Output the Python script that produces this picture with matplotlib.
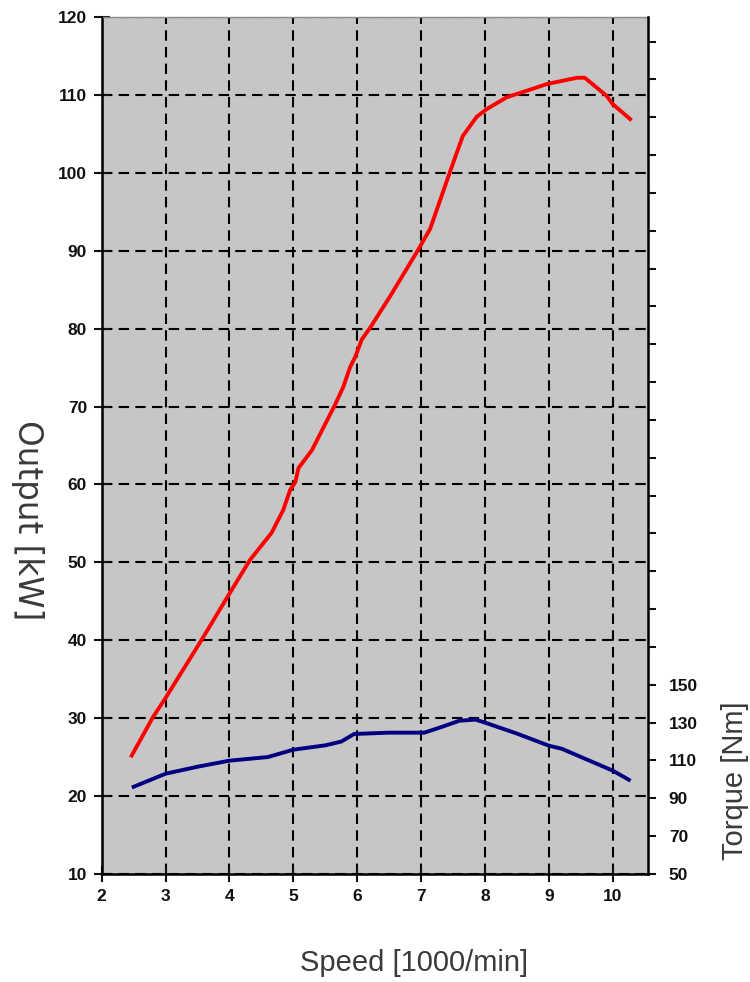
import matplotlib.pyplot as plt
import numpy as np

# output curve [kW]
speed_kw = [2.47, 2.8, 3.0, 3.56, 4.0, 4.32, 4.66, 4.84, 4.95, 5.03, 5.08, 5.29,
            5.65, 5.78, 5.89, 5.97, 6.07, 6.2, 6.51, 6.93, 7.14, 7.45, 7.65,
            7.87, 8.03, 8.34, 8.75, 8.97, 9.44, 9.56, 9.9, 10.0, 10.27]
output_kw = [25.2, 30.1, 32.6, 40.0, 46.0, 50.3, 53.8, 56.7, 59.3, 60.3, 62.1, 64.4,
             70.2, 72.5, 75.1, 76.4, 78.6, 80.1, 84.1, 89.8, 92.8, 100.1, 104.7,
             107.2, 108.2, 109.7, 110.8, 111.4, 112.2, 112.2, 109.9, 108.8, 106.9]

# torque curve [Nm]
speed_nm = [2.5, 3.0, 3.5, 4.0, 4.6, 5.0, 5.5, 5.75, 5.95, 6.5, 7.05, 7.3, 7.6,
            7.85, 8.0, 8.5, 9.0, 9.2, 10.0, 10.25]
torque_nm = [96.1, 103.0, 106.7, 109.9, 111.8, 115.7, 118.0, 120.0, 124.0, 124.7,
             124.7, 127.5, 131.0, 131.6, 130.0, 124.2, 117.8, 116.2, 104.6, 99.8]

x_ticks = list(range(2, 11))
y_ticks = list(range(10, 121, 10))
torque_ticks = list(range(50, 500, 20))
torque_labels = [str(t) if t <= 150 else "" for t in torque_ticks]

fig = plt.figure(figsize=(7.5, 9.82), dpi=100)
ax = fig.add_axes([0.1356, 0.11, 0.7284, 0.8727])
ax.set_facecolor("#c6c6c6")

ax.plot(speed_kw, output_kw, color="#ff0000", lw=2.8, zorder=3)
ax.set_xlim(2, 10.55)
ax.set_ylim(10, 120)
ax.set_xticks(x_ticks)
ax.set_yticks(y_ticks)
ax.grid(True, color="black", lw=1.5, linestyle=(0, (5, 3)))
ax.set_axisbelow(True)
tick_font = dict(family="Liberation Sans", weight="bold", size=12.5)
ax.set_xticklabels([str(t) for t in x_ticks], **tick_font)
ax.set_yticklabels([str(t) for t in y_ticks], **tick_font)
ax.tick_params(direction="inout", length=11, width=1.5, colors="#111111")
ax.tick_params(axis="x", pad=5)
ax.tick_params(axis="y", pad=5)
for side in ["left", "bottom"]:
    ax.spines[side].set_linewidth(1.8)
ax.spines["top"].set_color("#8a8a8a")
ax.spines["top"].set_linewidth(1)

ax2 = ax.twinx()
ax2.plot(speed_nm, torque_nm, color="#000080", lw=2.8, zorder=3)
ax2.set_ylim(50, 503)
ax2.set_yticks(torque_ticks)
ax2.set_yticklabels(torque_labels, **tick_font)
ax2.tick_params(direction="out", length=6, width=1.5, pad=9, colors="#111111")
ax2.spines["right"].set_linewidth(1.8)
ax2.spines["top"].set_visible(False)

label_color = "#3a3a3a"
fig.text(0.037, 1 - 520 / 982, "Output [kW]", rotation=270, ha="center", va="center",
         family="DejaVu Sans", size=23.5, color=label_color)
fig.text(0.98, 1 - 781 / 982, "Torque [Nm]", rotation=90, ha="center", va="center",
         family="Liberation Sans", size=21, color=label_color)
fig.text(414 / 750, 1 - 963 / 982, "Speed [1000/min]", ha="center", va="center",
         family="Liberation Sans", size=21, color=label_color)

fig.savefig("out.png", dpi=100)
